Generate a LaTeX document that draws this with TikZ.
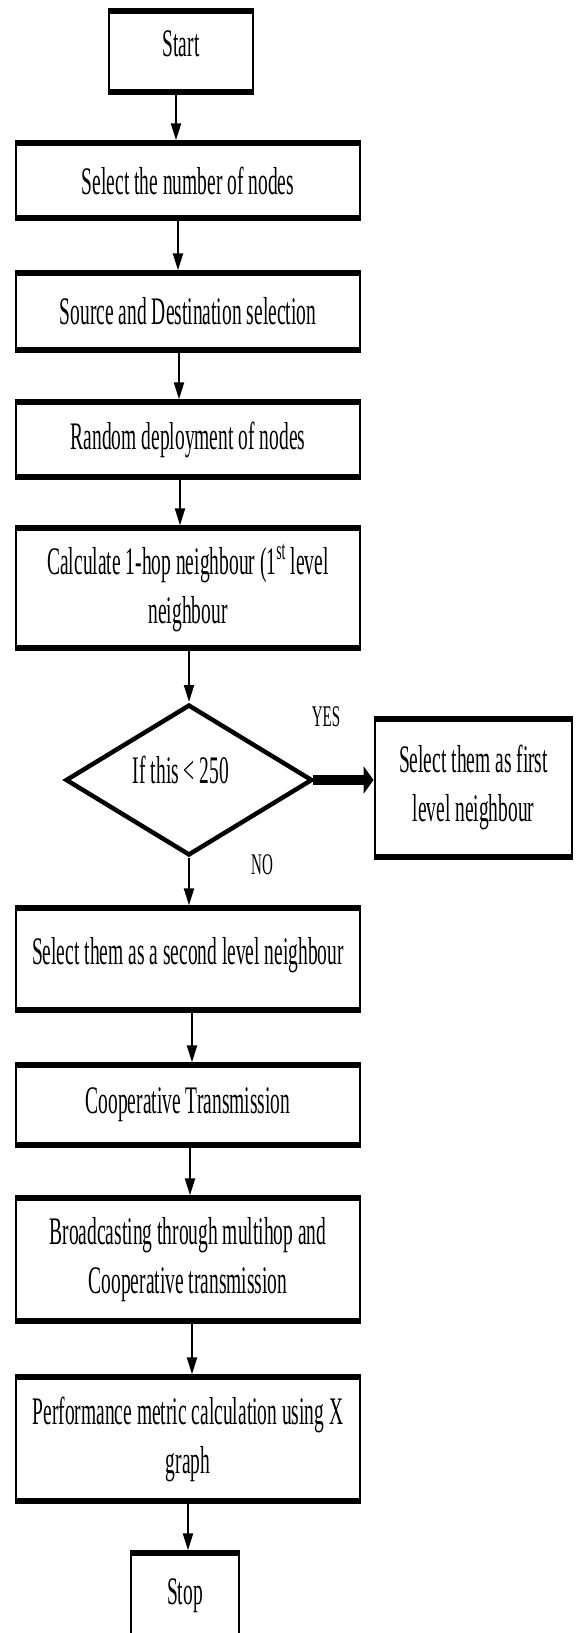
\documentclass[tikz,border=0pt]{standalone}
\usepackage{fontspec}
\setmainfont{Liberation Serif}
\usetikzlibrary{shapes.geometric,arrows.meta}
% pushes the text of a node upward by half the given depth
\newcommand\txtlift[1]{\rule[-#1]{0pt}{#1}}
\begin{document}
\begin{tikzpicture}[x=1pt,y=-1pt]
\path[use as bounding box, fill=white] (0,0) rectangle (578,1633);
% the chart is laid out in page pixels and drawn on a canvas stretched
% twice in height, which also stretches lines, arrow tips and lettering
\begin{scope}[transform canvas={yscale=2}, y=-0.5pt,
  stepbox/.style={draw, rectangle, line width=2.7pt, inner sep=4pt, align=center,
    font=\fontsize{19.5}{24.5}\selectfont},
  decision/.style={draw, diamond, aspect=3.26, line width=2.5pt, inner sep=0pt,
    minimum width=246pt, minimum height=75.5pt, font=\fontsize{19.5}{24.5}\selectfont},
  flow/.style={line width=2.8pt, -{Triangle[length=8.5pt,width=10pt]}},
  yesflow/.style={line width=5pt, -{Triangle[length=10pt,width=13pt]}},
  answer/.style={font=\fontsize{15}{18}\selectfont, inner sep=0pt},
]
  % process steps
  \node[stepbox, minimum width=144pt, minimum height=40.5pt] (start) at (181,51.5) {Start\txtlift{8pt}};
  \node[stepbox, minimum width=344pt, minimum height=37.5pt] (nodes) at (188,180.5) {Select the number of nodes};
  \node[stepbox, minimum width=344pt, minimum height=38.5pt] (srcdst) at (188,311.5) {Source and Destination selection};
  \node[stepbox, minimum width=344pt, minimum height=37.5pt] (deploy) at (188,439.5) {Random deployment of nodes};
  \node[stepbox, minimum width=344pt, minimum height=60pt] (hop) at (188,588) {Calculate 1-hop neighbour (1\textsuperscript{st} level\\neighbour};
  \node[decision] (test) at (189,780) {If this < 250\hspace*{16pt}\txtlift{10pt}};
  \node[stepbox, minimum width=197pt, minimum height=69pt] (first) at (473.5,788) {Select them as first\\level neighbour\txtlift{5pt}};
  \node[stepbox, minimum width=344pt, minimum height=51pt] (second) at (188,959) {Select them as a second level neighbour\txtlift{8pt}};
  \node[stepbox, minimum width=344pt, minimum height=40pt] (coop) at (188,1105) {Cooperative Transmission};
  \node[stepbox, minimum width=344pt, minimum height=61.5pt] (bcast) at (188,1259.5) {Broadcasting through multihop and\\Cooperative transmission};
  \node[stepbox, minimum width=344pt, minimum height=62pt] (perf) at (188,1439) {Performance metric calculation using X\\graph};
  \node[stepbox, minimum width=108pt, minimum height=45pt] (stop) at (185,1598) {Stop\txtlift{6pt}};

  % branch labels
  \node[answer] (yes) at (326,717) {YES};
  \node[answer] (no) at (262,865) {NO};

  % connectors
  \draw[flow] ([xshift=-5pt]start.south) -- ([xshift=-5pt]start.south |- nodes.north);
  \draw[flow] ([xshift=-10pt]nodes.south) -- ([xshift=-10pt]srcdst.north);
  \draw[flow] ([xshift=-9pt]srcdst.south) -- ([xshift=-9pt]deploy.north);
  \draw[flow] ([xshift=-8pt]deploy.south) -- ([xshift=-8pt]hop.north);
  \draw[flow] (hop.south -| test.north) -- (test.north);
  \draw[yesflow] (test.east) -- (test.east -| first.west);
  \draw[flow] (test.south) -- (test.south |- second.north);
  \draw[flow] ([xshift=4pt]second.south) -- ([xshift=4pt]coop.north);
  \draw[flow] ([xshift=2pt]coop.south) -- ([xshift=2pt]bcast.north);
  \draw[flow] ([xshift=4pt]bcast.south) -- ([xshift=4pt]perf.north);
  \draw[flow] (perf.south) -- (perf.south |- stop.north);
\end{scope}
\end{tikzpicture}
\end{document}
